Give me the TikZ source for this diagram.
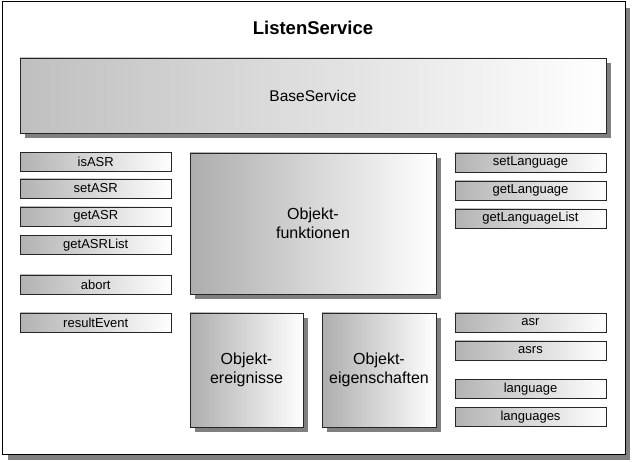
\documentclass[tikz,border=0pt]{standalone}
\usepackage{fontspec}
\setmainfont{Liberation Sans}
\usepackage{tikz}
\usetikzlibrary{shadows}

\tikzset{
  shadowed/.style={drop shadow={shadow xshift=5pt,shadow yshift=-5pt,fill=black!50,opacity=1}},
  bigbox/.style={draw=black!85,line width=0.6pt,shadowed,left color=black!32,right color=white,
    align=center,inner sep=0pt,font=\fontsize{16}{19}\selectfont},
  smallbox/.style={draw=black!85,line width=0.6pt,left color=black!30,right color=white,
    minimum width=151pt,minimum height=19pt,inner sep=0pt,font=\fontsize{13}{15}\selectfont}
}

\begin{document}
\begin{tikzpicture}[x=1pt,y=-1pt]
\useasboundingbox (0,0) rectangle (632,462);
% outer frame
\fill[black!50] (8,8) rectangle (630,460);
\draw[fill=white,line width=1pt] (2,2) rectangle (625,454);
\node[font=\bfseries\fontsize{18.5}{22}\selectfont] (title) at (313,28) {ListenService};
% base
\node[bigbox,minimum width=586pt,minimum height=75pt,left color=black!25,
  font=\fontsize{15.5}{18}\selectfont] (base) at (313,95.5) {BaseService};
% big boxes
\node[bigbox,minimum width=246pt,minimum height=141pt] (funk) at (313,223.5) {Objekt-\\funktionen};
\node[bigbox,minimum width=113pt,minimum height=114pt] (ereig) at (246.5,370) {Objekt-\\ereignisse};
\node[bigbox,minimum width=114pt,minimum height=114pt] (eigen) at (379,370) {Objekt-\\eigenschaften};
% left column
\node[smallbox] (isASR) at (95.75,162) {isASR};
\node[smallbox] (setASR) at (95.75,188.5) {setASR};
\node[smallbox] (getASR) at (95.75,216.5) {getASR};
\node[smallbox] (getASRList) at (95.75,245) {getASRList};
\node[smallbox] (abort) at (95.75,284.5) {abort};
\node[smallbox] (resultEvent) at (95.75,322.5) {resultEvent};
% right column
\node[smallbox] (setLang) at (530.5,162.5) {setLanguage};
\node[smallbox] (getLang) at (530.5,190.5) {getLanguage};
\node[smallbox] (getLangList) at (530.5,218.5) {getLanguageList};
\node[smallbox] (asr) at (530.5,322.5) {asr};
\node[smallbox] (asrs) at (530.5,350.5) {asrs};
\node[smallbox] (lang) at (530.5,389) {language};
\node[smallbox] (langs) at (530.5,417) {languages};
\end{tikzpicture}
\end{document}
